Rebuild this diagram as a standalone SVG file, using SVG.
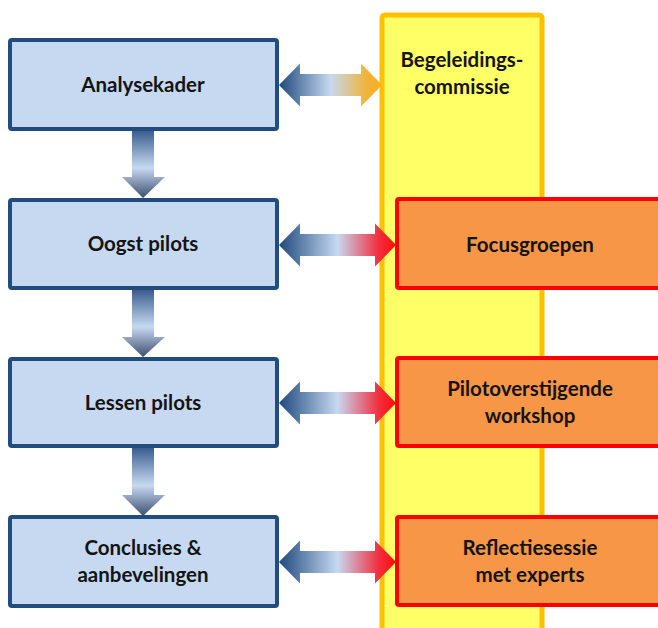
<svg xmlns="http://www.w3.org/2000/svg" width="658" height="628" viewBox="0 0 658 628">
<defs>
<linearGradient id="gDown" x1="0" y1="0" x2="0" y2="1">
<stop offset="0" stop-color="#3B5D8F"/>
<stop offset="0.55" stop-color="#C6D9F1"/>
<stop offset="1" stop-color="#3E4E70"/>
</linearGradient>
<linearGradient id="gYel" x1="0" y1="0" x2="1" y2="0">
<stop offset="0" stop-color="#1F497D"/>
<stop offset="0.5" stop-color="#C6D9F1"/>
<stop offset="0.85" stop-color="#F0B33A"/>
<stop offset="1" stop-color="#F5B020"/>
</linearGradient>
<linearGradient id="gRed" x1="0" y1="0" x2="1" y2="0">
<stop offset="0" stop-color="#1F497D"/>
<stop offset="0.5" stop-color="#C6D9F1"/>
<stop offset="0.85" stop-color="#F23040"/>
<stop offset="1" stop-color="#FF0A0A"/>
</linearGradient>
</defs>
<style>
.blue{fill:#C6D9F1;stroke:#234C7E;stroke-width:4}
.yel{fill:#FFFF66;stroke:#FFC000;stroke-width:5}
.org{fill:#F79646;stroke:#FF0000;stroke-width:4}
text{font-family:Lato,"Open Sans","Liberation Sans",sans-serif;font-weight:bold;font-size:20.5px;fill:#141414;text-anchor:middle}
</style>
<rect width="658" height="628" fill="#FFFFFF"/>
<g id="begeleidingscommissie">
<rect class="yel" x="382" y="15" width="160" height="700" rx="3"/>
<text x="462" y="67">Begeleidings-</text>
<text x="462" y="94">commissie</text>
</g>
<g id="connectors">
<polygon fill="url(#gDown)" points="132,131 154,131 154,177 165,177 143,198 122,177 132,177"/>
<polygon fill="url(#gDown)" points="132,290 154,290 154,337 165,337 143,357 122,337 132,337"/>
<polygon fill="url(#gDown)" points="132,448 154,448 154,495 165,495 143,516 122,495 132,495"/>
<polygon fill="url(#gYel)" points="279,85 300,63.5 300,74 361,74 361,63.5 382,85 361,106.5 361,96 300,96 300,106.5"/>
<polygon fill="url(#gRed)" points="279,245 300,223.5 300,234 375,234 375,223.5 396,245 375,266.5 375,256 300,256 300,266.5"/>
<polygon fill="url(#gRed)" points="279,403 300,381.5 300,392 375,392 375,381.5 396,403 375,424.5 375,414 300,414 300,424.5"/>
<polygon fill="url(#gRed)" points="279,562 300,540.5 300,551 375,551 375,540.5 396,562 375,583.5 375,573 300,573 300,583.5"/>
</g>
<g id="analysekader">
<rect class="blue" x="10" y="40" width="267" height="89" rx="2"/>
<text x="143" y="92">Analysekader</text>
</g>
<g id="oogst-pilots">
<rect class="blue" x="10" y="200" width="267" height="88" rx="2"/>
<text x="143" y="251">Oogst pilots</text>
</g>
<g id="lessen-pilots">
<rect class="blue" x="10" y="359" width="267" height="87" rx="2"/>
<text x="143" y="410">Lessen pilots</text>
</g>
<g id="conclusies">
<rect class="blue" x="10" y="517" width="267" height="89" rx="2"/>
<text x="143" y="555">Conclusies &amp;</text>
<text x="143" y="582">aanbevelingen</text>
</g>
<g id="focusgroepen">
<rect class="org" x="397" y="199" width="280" height="89" rx="2"/>
<text x="530" y="252">Focusgroepen</text>
</g>
<g id="pilotoverstijgende-workshop">
<rect class="org" x="397" y="358" width="280" height="88" rx="2"/>
<text x="530" y="396">Pilotoverstijgende</text>
<text x="530" y="423">workshop</text>
</g>
<g id="reflectiesessie">
<rect class="org" x="397" y="517" width="280" height="88" rx="2"/>
<text x="530" y="555">Reflectiesessie</text>
<text x="530" y="582">met experts</text>
</g>
</svg>
